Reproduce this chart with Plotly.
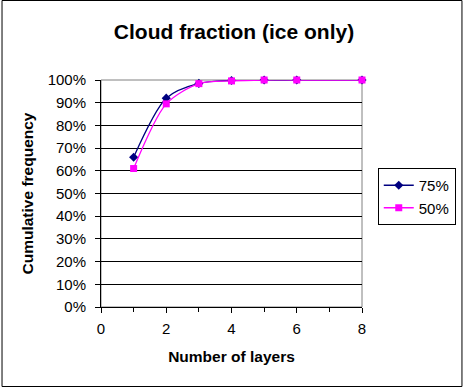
import plotly.graph_objects as go

layers_75 = [1, 2, 3, 4, 5, 6, 8]
freq_75 = [0.66, 0.92, 0.985, 0.998, 1.0, 1.0, 1.0]
layers_50 = [1, 2, 3, 4, 5, 6, 8]
freq_50 = [0.61, 0.895, 0.984, 0.996, 1.0, 1.0, 1.0]
y_ticks = [i / 10 for i in range(11)]
y_labels = [f"{i*10}%" for i in range(11)]
x_ticks = [0, 2, 4, 6, 8]

FONT = "Liberation Sans, Arial, sans-serif"
W, H = 468, 387
L, R, T, B = 101, 102, 80, 80
pw, ph = W - L - R, H - T - B

fig = go.Figure()
fig.add_trace(go.Scatter(x=layers_75, y=freq_75, name="75%", mode="lines+markers",
                         cliponaxis=False,
                         line=dict(color="#000080", width=1.3, shape="spline", smoothing=0.8),
                         marker=dict(symbol="diamond", size=7, color="#000080")))
fig.add_trace(go.Scatter(x=layers_50, y=freq_50, name="50%", mode="lines+markers",
                         cliponaxis=False,
                         line=dict(color="#FF00FF", width=1.3, shape="spline", smoothing=0.8),
                         marker=dict(symbol="square", size=7, color="#FF00FF")))

fig.update_layout(
    width=W, height=H,
    margin=dict(l=L, r=R, t=T, b=B),
    paper_bgcolor="white", plot_bgcolor="white",
    font=dict(family=FONT, size=15, color="black"),
    title=dict(text="<b>Cloud fraction (ice only)</b>", x=0.5, xanchor="center",
               y=1 - 32 / H, yanchor="middle", font=dict(size=21, family=FONT)),
    showlegend=True,
    legend=dict(x=(382 - L) / pw, y=(307 - 168) / ph, xanchor="left", yanchor="top",
                bordercolor="black", borderwidth=1, bgcolor="white",
                font=dict(size=15, family=FONT), itemwidth=30, tracegroupgap=0),
    xaxis=dict(range=[0, 8], tickvals=x_ticks, ticks="outside", ticklen=5, tickcolor="black",
               showline=True, linecolor="black", linewidth=1, showgrid=False, zeroline=False,
               minor=dict(dtick=1, ticks="outside", ticklen=4, tickcolor="black"),
               tickfont=dict(size=15), ticklabelstandoff=3,
               title=dict(text="<b>Number of layers</b>", font=dict(size=15.5), standoff=15)),
    yaxis=dict(range=[0, 1], tickvals=y_ticks, ticktext=y_labels, ticks="outside", ticklen=5,
               tickcolor="black", showline=True, linecolor="black", linewidth=1,
               showgrid=True, gridcolor="black", gridwidth=1, zeroline=False,
               tickfont=dict(size=15), ticklabelstandoff=6,
               title=dict(text="<b>Cumulative frequency</b>", font=dict(size=15.5), standoff=10)),
    shapes=[
        dict(type="rect", xref="paper", yref="paper", x0=0, x1=1, y0=0, y1=1,
             line=dict(color="#808080", width=1), layer="below"),
        dict(type="rect", xref="paper", yref="paper",
             x0=(0.5 - L) / pw, x1=(W - 0.5 - L) / pw,
             y0=(H - B - (H - 0.5)) / ph, y1=(H - B - 0.5) / ph,
             line=dict(color="black", width=1), layer="below"),
    ],
)
fig.write_html("out.html")
